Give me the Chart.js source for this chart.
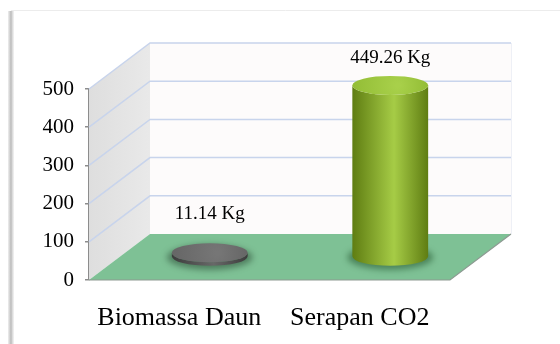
<!DOCTYPE html>
<html><head><meta charset="utf-8">
<script src="https://cdn.jsdelivr.net/npm/chart.js@4/dist/chart.umd.min.js"></script>
<style>html,body{margin:0;padding:0;background:#fff}#wrap{width:560px;height:344px}</style>
</head><body><div id="wrap"><canvas id="c" width="560" height="344"></canvas></div>
<script>
const categories = ['Biomassa Daun', 'Serapan CO2'];
const values = [11.14, 449.26];
const valueLabels = ['11.14 Kg', '449.26 Kg'];
const yMin = 0, yMax = 500, yStep = 100;

const SERIF = '"Liberation Serif", "Times New Roman", serif';
const DX = 61, DY = -46;
const palette = [
  {dark:'#3c3c3c', light:'#686868', top:'#666666', topLight:'#767676', shadow:'rgba(40,70,50,0.55)'},
  {dark:'#5f7d12', light:'#a6cc46', top:'#93bd36', topLight:'#a8d04a', shadow:'rgba(40,90,50,0.6)'}
];

const threeD = {
  id: 'threeD',
  beforeDraw(chart) {
    const ctx = chart.ctx;
    ctx.save();
    ctx.fillStyle = '#fff';
    ctx.fillRect(0, 0, chart.width, chart.height);
    ctx.strokeStyle = '#ececec';
    ctx.lineWidth = 1;
    ctx.beginPath(); ctx.moveTo(11, 10.5); ctx.lineTo(chart.width, 10.5); ctx.stroke();
    const g = ctx.createLinearGradient(8, 0, 14, 0);
    g.addColorStop(0, 'rgba(200,200,200,0.3)');
    g.addColorStop(0.5, '#b9b9b9');
    g.addColorStop(1, 'rgba(225,225,225,0.4)');
    ctx.fillStyle = g;
    ctx.fillRect(8, 11, 6, chart.height - 11);
    ctx.restore();
  },
  beforeDatasetsDraw(chart) {
    const ctx = chart.ctx;
    const {left, right, top, bottom} = chart.chartArea;
    const y = chart.scales.y;
    ctx.save();
    // back wall
    ctx.fillStyle = '#fdfbfb';
    ctx.fillRect(left + DX, top + DY, right - left, bottom - top);
    // side wall
    const sg = ctx.createLinearGradient(left, 0, left + DX, 0);
    sg.addColorStop(0, '#dedede');
    sg.addColorStop(1, '#e9e9e9');
    ctx.fillStyle = sg;
    ctx.beginPath();
    ctx.moveTo(left, bottom); ctx.lineTo(left, top);
    ctx.lineTo(left + DX, top + DY); ctx.lineTo(left + DX, bottom + DY);
    ctx.closePath(); ctx.fill();
    // gridlines
    ctx.strokeStyle = '#c8d4ec';
    ctx.lineWidth = 1.5;
    y.ticks.forEach(t => {
      if (t.value === yMin) return;
      const py = y.getPixelForValue(t.value);
      ctx.beginPath();
      ctx.moveTo(left, py);
      ctx.lineTo(left + DX, py + DY);
      ctx.lineTo(right + DX, py + DY);
      ctx.stroke();
    });
    ctx.strokeStyle = '#eef0f6';
    ctx.lineWidth = 1;
    ctx.beginPath(); ctx.moveTo(right + DX + 0.5, top + DY); ctx.lineTo(right + DX + 0.5, bottom + DY); ctx.stroke();
    // floor
    ctx.fillStyle = '#7ec195';
    ctx.beginPath();
    ctx.moveTo(left, bottom); ctx.lineTo(right, bottom);
    ctx.lineTo(right + DX, bottom + DY); ctx.lineTo(left + DX, bottom + DY);
    ctx.closePath(); ctx.fill();
    ctx.strokeStyle = '#8d9a92';
    ctx.lineWidth = 1.2;
    ctx.beginPath();
    ctx.moveTo(left, bottom); ctx.lineTo(right, bottom); ctx.lineTo(right + DX, bottom + DY);
    ctx.stroke();
    ctx.restore();
  },
  afterDatasetsDraw(chart) {
    const ctx = chart.ctx;
    const meta = chart.getDatasetMeta(0);
    meta.data.forEach((bar, i) => {
      const c = palette[i % palette.length];
      const cx = bar.x + DX / 2;
      const topY = bar.y + DY / 2;
      const baseY = bar.base + DY / 2;
      const rx = bar.width / 2, ry = 9.5;
      ctx.save();
      ctx.filter = 'blur(3px)';
      ctx.fillStyle = c.shadow;
      ctx.beginPath(); ctx.ellipse(cx, baseY + 1, rx + 5, ry + 3, 0, 0, Math.PI * 2); ctx.fill();
      ctx.filter = 'none';
      const g = ctx.createLinearGradient(cx - rx, 0, cx + rx, 0);
      g.addColorStop(0, c.dark);
      g.addColorStop(0.55, c.light);
      g.addColorStop(1, c.dark);
      ctx.fillStyle = g;
      ctx.beginPath();
      ctx.moveTo(cx - rx, topY);
      ctx.lineTo(cx - rx, baseY);
      ctx.ellipse(cx, baseY, rx, ry, 0, Math.PI, 0, true);
      ctx.lineTo(cx + rx, topY);
      ctx.ellipse(cx, topY, rx, ry, 0, 0, Math.PI, false);
      ctx.closePath();
      ctx.fill();
      const tg = ctx.createRadialGradient(cx + rx * 0.2, topY, 2, cx, topY, rx);
      tg.addColorStop(0, c.topLight);
      tg.addColorStop(1, c.top);
      ctx.fillStyle = tg;
      ctx.beginPath(); ctx.ellipse(cx, topY, rx, ry, 0, 0, Math.PI * 2); ctx.fill();
      ctx.restore();
      ctx.save();
      ctx.fillStyle = '#000';
      ctx.font = '19px ' + SERIF;
      ctx.textAlign = 'center';
      ctx.textBaseline = 'middle';
      const ly = Math.min(bar.y + DY - 4, bar.base + DY - 19);
      ctx.fillText(valueLabels[i], cx, ly);
      ctx.restore();
    });
  }
};

new Chart(document.getElementById('c'), {
  type: 'bar',
  data: {
    labels: categories,
    datasets: [{
      data: values,
      backgroundColor: 'rgba(0,0,0,0)',
      borderWidth: 0,
      barPercentage: 0.42,
      categoryPercentage: 1
    }]
  },
  options: {
    responsive: false,
    animation: false,
    layout: {padding: {left: 0, top: 89, right: 110, bottom: 0}},
    plugins: {legend: {display: false}, tooltip: {enabled: false}},
    scales: {
      x: {
        grid: {display: false},
        border: {display: false},
        ticks: {color: '#000', font: {family: SERIF, size: 26}, padding: 15},
        afterFit(s) { s.height = 64; }
      },
      y: {
        min: yMin, max: yMax,
        ticks: {stepSize: yStep, color: '#000', font: {family: SERIF, size: 21}, padding: 11},
        grid: {drawOnChartArea: false, drawTicks: true, tickLength: 4, color: '#8c8c8c', lineWidth: 1.5},
        border: {display: true, color: '#8c8c8c', width: 1.5},
        afterFit(s) { s.width = 89; }
      }
    }
  },
  plugins: [threeD]
});
</script>
</body></html>
